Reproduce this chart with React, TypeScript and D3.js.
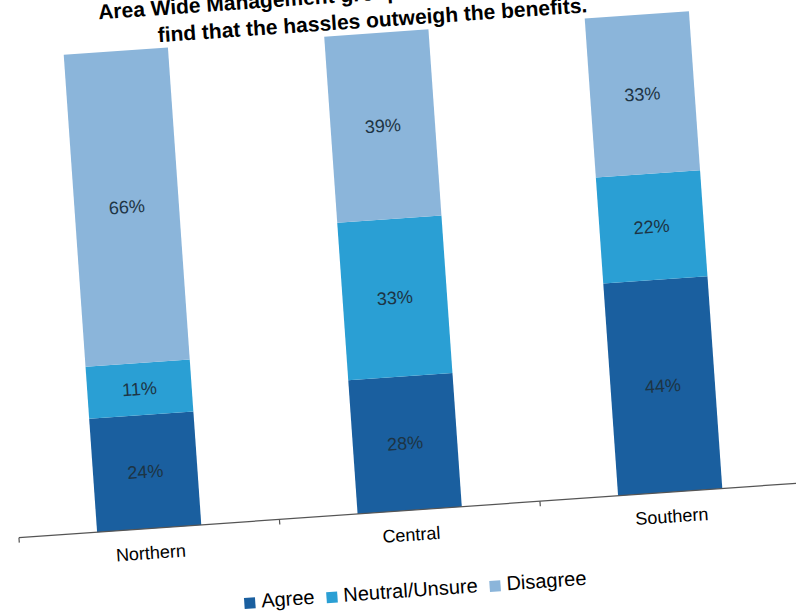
import React from "react";
import * as d3 from "d3";

const categories = ["Northern", "Central", "Southern"];
const agree = [24, 28, 44];
const neutral = [11, 33, 22];
const disagree = [66, 39, 33];
const seriesNames = ["Agree", "Neutral/Unsure", "Disagree"];
const seriesColors = ["#1a5f9f", "#2a9fd4", "#8bb5da"];
const titleLines = [
  "Area Wide Management groups: Share of growers who",
  "find that the hassles outweigh the benefits.",
];

const W = 796;
const H = 615;
const FONT = "'Liberation Sans', Arial, sans-serif";

function measure(text: string, font: string): number {
  const c = document.createElement("canvas");
  const ctx = c.getContext("2d");
  if (!ctx) return text.length * 10;
  ctx.font = font;
  return ctx.measureText(text).width;
}

export default function App() {
  const rows = categories.map((c, i) => ({
    category: c,
    Agree: agree[i],
    "Neutral/Unsure": neutral[i],
    Disagree: disagree[i],
  }));
  const stack = d3.stack<any>().keys(seriesNames).offset(d3.stackOffsetExpand);
  const stacked = stack(rows);

  const x = d3
    .scaleBand<string>()
    .domain(categories)
    .range([3.3, 786.7])
    .paddingInner(0.6)
    .paddingOuter(0.3);
  const y = d3.scaleLinear().domain([0, 1]).range([510.5, 32]);
  const colorScale = d3.scaleOrdinal<string, string>().domain(seriesNames).range(seriesColors);
  const valueOf: Record<string, number[]> = {
    Agree: agree,
    "Neutral/Unsure": neutral,
    Disagree: disagree,
  };

  const step = x.step();
  const tickXs = [x.range()[0], ...categories.map((c) => (x(c) as number) + x.bandwidth() / 2 + step / 2)];

  // legend layout
  const legendFont = `20px ${FONT}`;
  const sq = 11;
  const gapSqText = 6;
  const gapItems = 12;
  const widths = seriesNames.map((s) => measure(s, legendFont));
  const total =
    widths.reduce((a, b) => a + b, 0) + seriesNames.length * (sq + gapSqText) + (seriesNames.length - 1) * gapItems;
  const legendCenter = 395;
  let lx = legendCenter - total / 2;
  const legendItems = seriesNames.map((s, i) => {
    const item = { name: s, x: lx, w: widths[i] };
    lx += sq + gapSqText + widths[i] + gapItems;
    return item;
  });

  return (
    <svg
      width={W}
      height={H}
      style={{ position: "absolute", left: 0, top: 0, background: "#ffffff" }}
      fontFamily={FONT}
    >
      <rect x={0} y={0} width={W} height={H} fill="#ffffff" />
      <g transform="rotate(-4 400 300)">
        {/* title */}
        <text x={392} y={-1} textAnchor="middle" fontSize={21} fontWeight="bold" fill="#000">
          {titleLines[0]}
        </text>
        <text x={392} y={26} textAnchor="middle" fontSize={21} fontWeight="bold" fill="#000">
          {titleLines[1]}
        </text>

        {/* bars */}
        {stacked.map((layer) => (
          <g key={layer.key} fill={colorScale(layer.key)}>
            {layer.map((d, i) => (
              <rect
                key={i}
                x={x(categories[i]) as number}
                y={y(d[1])}
                width={x.bandwidth()}
                height={y(d[0]) - y(d[1])}
              />
            ))}
          </g>
        ))}

        {/* data labels */}
        {stacked.map((layer) =>
          layer.map((d, i) => (
            <text
              key={layer.key + i}
              x={(x(categories[i]) as number) + x.bandwidth() / 2}
              y={(y(d[0]) + y(d[1])) / 2 + 6}
              textAnchor="middle"
              fontSize={18}
              fill="#1d3444"
            >
              {valueOf[layer.key][i] + "%"}
            </text>
          ))
        )}

        {/* axis */}
        <line x1={x.range()[0]} x2={x.range()[1] + 14} y1={510.5} y2={510.5} stroke="#555" strokeWidth={1.2} />
        {tickXs.map((tx, i) => (
          <line key={i} x1={tx} x2={tx} y1={510.5} y2={515.5} stroke="#555" strokeWidth={1.2} />
        ))}
        {categories.map((c) => (
          <text
            key={c}
            x={(x(c) as number) + x.bandwidth() / 2}
            y={541}
            textAnchor="middle"
            fontSize={18}
            fill="#000"
          >
            {c}
          </text>
        ))}

        {/* legend */}
        {legendItems.map((it, i) => (
          <g key={it.name}>
            <rect x={it.x} y={586.5} width={sq} height={sq} fill={seriesColors[i]} />
            <text x={it.x + sq + gapSqText} y={597} fontSize={20} fill="#000">
              {it.name}
            </text>
          </g>
        ))}
      </g>
    </svg>
  );
}
